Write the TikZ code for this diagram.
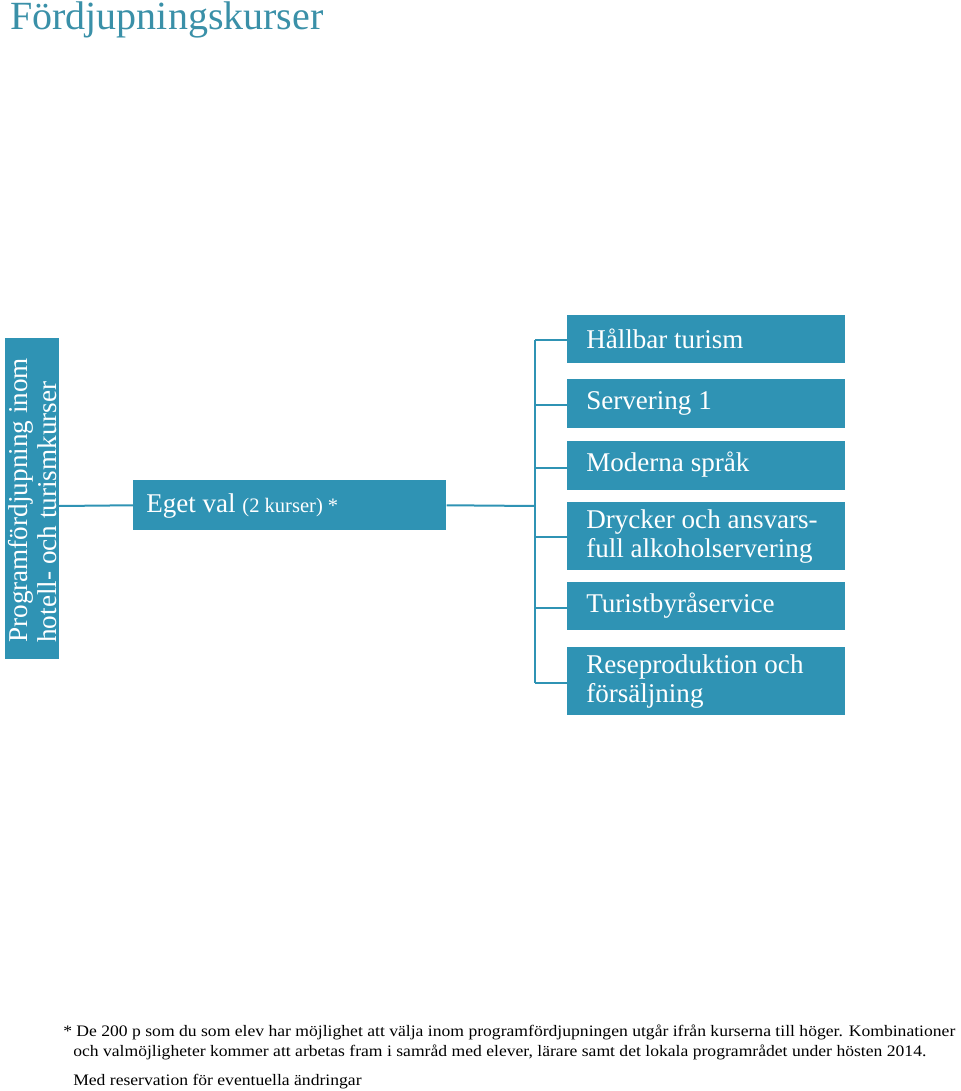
\documentclass[tikz,border=0pt]{standalone}
\usepackage{fontspec}
\setmainfont{Liberation Serif}
\newfontfamily\notefont[FakeStretch=1.1]{Liberation Serif}
\definecolor{boxc}{HTML}{2F93B4}
\definecolor{titlec}{HTML}{3A90A8}
\begin{document}
\begin{tikzpicture}[x=0.75pt,y=-0.75pt,
  box/.style={fill=boxc, draw=none, inner sep=0},
  lbl/.style={text=white, anchor=west, inner sep=0, align=left, font=\fontsize{20.3}{21.75}\selectfont},
  conn/.style={draw=boxc, line width=1.5pt},
  note/.style={anchor=base west, inner sep=0, font=\notefont\fontsize{12}{14}\selectfont}]
\useasboundingbox (0,0) rectangle (960,1091);
\node[anchor=base west, inner sep=0, text=titlec, font=\fontsize{30}{32}\selectfont] (title) at (10,30) {Fördjupningskurser};
% left box
\path[box] (5,338) rectangle (59,659);
\coordinate (lb) at (59,506);
\node[rotate=90, anchor=north west, align=left, inner sep=0, text=white, font=\fontsize{20.4}{22}\selectfont] (ltxt) at (8,643) {Programfördjupning inom\\hotell- och turismkurser};
% eget val
\node[box, minimum width=313*0.75pt, minimum height=50*0.75pt, anchor=north west] (eget) at (133,480) {};
\node[lbl] (egett) at (146,506) {Eget val {\fontsize{15.4}{16}\selectfont(2 kurser) *}};
\draw[conn] (lb) -- (eget.west);
% right boxes
\coordinate (jn) at (535,506);
\draw[conn] (eget.east) -- (jn);
\foreach \n/\y/\h in {b1/315/48, b2/379/49, b3/441/49, b4/502/68, b5/582/48, b6/647/68}{
  \node[box, minimum width=278*0.75pt, minimum height=\h*0.75pt, anchor=north west] (\n) at (567,\y) {};
}
\node[lbl] at (586,339) {Hållbar turism};
\node[lbl] at (586,403) {Servering 1};
\node[lbl] at (586,465) {Moderna språk};
\node[lbl] at (586,537) {Drycker och ansvars-\\full alkoholservering};
\node[lbl] at (586,606) {Turistbyråservice};
\node[lbl] at (586,682) {Reseproduktion och\\försäljning};
\coordinate (vt) at (535,340);
\coordinate (vb) at (535,683);
\draw[conn] (vt) -- (vb);
\foreach \n/\y in {b1/340,b2/405,b3/468,b4/537,b5/608,b6/683}{
  \draw[conn] (535,\y) -- (\n.west |- 535,\y);
}
% footnote
\node[note] (fn1) at (63,1036) {* De 200 p som du som elev har möjlighet att välja inom programfördjupningen utgår ifrån kurserna till höger. Kombinationer};
\node[note] (fn2) at (73,1056) {och valmöjligheter kommer att arbetas fram i samråd med elever, lärare samt det lokala programrådet under hösten 2014.};
\node[note] (fn3) at (73,1085) {Med reservation för eventuella ändringar};
\end{tikzpicture}
\end{document}
